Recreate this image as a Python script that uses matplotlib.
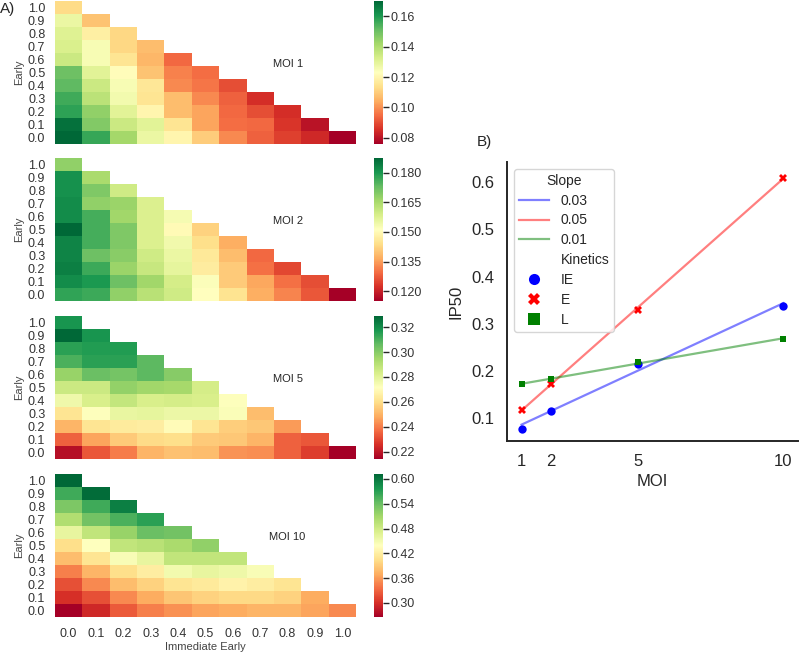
import numpy as np
import matplotlib
matplotlib.use("Agg")
import matplotlib.pyplot as plt
from matplotlib.lines import Line2D

plt.rcParams['font.family'] = ['Liberation Sans', 'DejaVu Sans']
plt.rcParams['text.color'] = '#262626'
plt.rcParams['axes.labelcolor'] = '#262626'
plt.rcParams['xtick.color'] = '#262626'
plt.rcParams['ytick.color'] = '#262626'

# --- data -------------------------------------------------------------------
ie_levels = ["0.0", "0.1", "0.2", "0.3", "0.4", "0.5", "0.6", "0.7", "0.8", "0.9", "1.0"]
early_levels = ie_levels[::-1]  # rows from top (Early 1.0) to bottom (Early 0.0)

# IP50 per cell, rows Early 1.0 -> 0.0, columns Immediate Early 0.0 -> ...
moi1 = [
    [0.113],
    [0.128, 0.108],
    [0.131, 0.118, 0.112],
    [0.132, 0.125, 0.112, 0.107],
    [0.135, 0.125, 0.115, 0.106, 0.094],
    [0.150, 0.130, 0.122, 0.108, 0.098, 0.095],
    [0.152, 0.135, 0.125, 0.116, 0.099, 0.096, 0.090],
    [0.156, 0.138, 0.126, 0.115, 0.107, 0.099, 0.093, 0.085],
    [0.158, 0.145, 0.130, 0.120, 0.107, 0.103, 0.094, 0.090, 0.085],
    [0.168, 0.147, 0.135, 0.130, 0.115, 0.103, 0.095, 0.094, 0.086, 0.080],
    [0.170, 0.157, 0.142, 0.128, 0.120, 0.110, 0.099, 0.093, 0.088, 0.084, 0.076],
]
moi2 = [
    [0.168],
    [0.181, 0.165],
    [0.181, 0.170, 0.160],
    [0.182, 0.168, 0.167, 0.158],
    [0.182, 0.176, 0.166, 0.158, 0.153],
    [0.1875, 0.176, 0.170, 0.158, 0.150, 0.142],
    [0.183, 0.176, 0.170, 0.158, 0.154, 0.144, 0.137],
    [0.183, 0.172, 0.169, 0.160, 0.155, 0.146, 0.139, 0.129],
    [0.184, 0.177, 0.167, 0.161, 0.156, 0.147, 0.141, 0.130, 0.125],
    [0.182, 0.180, 0.172, 0.166, 0.159, 0.152, 0.141, 0.136, 0.130, 0.126],
    [0.178, 0.177, 0.168, 0.163, 0.160, 0.151, 0.145, 0.137, 0.132, 0.127, 0.115],
]
moi5 = [
    [0.318],
    [0.329, 0.318],
    [0.315, 0.316, 0.316],
    [0.310, 0.315, 0.315, 0.307],
    [0.297, 0.305, 0.303, 0.307, 0.300],
    [0.286, 0.286, 0.298, 0.295, 0.294, 0.284],
    [0.276, 0.283, 0.288, 0.283, 0.284, 0.283, 0.272],
    [0.262, 0.272, 0.278, 0.279, 0.277, 0.277, 0.273, 0.252],
    [0.250, 0.262, 0.264, 0.265, 0.270, 0.262, 0.256, 0.254, 0.245],
    [0.235, 0.247, 0.255, 0.259, 0.260, 0.255, 0.254, 0.250, 0.235, 0.233],
    [0.218, 0.233, 0.240, 0.250, 0.253, 0.252, 0.244, 0.243, 0.235, 0.228, 0.214],
]
moi10 = [
    [0.612],
    [0.560, 0.608],
    [0.530, 0.560, 0.595],
    [0.500, 0.535, 0.555, 0.570],
    [0.460, 0.490, 0.515, 0.540, 0.535],
    [0.405, 0.440, 0.490, 0.495, 0.505, 0.520],
    [0.380, 0.410, 0.445, 0.460, 0.490, 0.490, 0.490],
    [0.345, 0.375, 0.405, 0.420, 0.450, 0.460, 0.455, 0.445],
    [0.320, 0.350, 0.380, 0.395, 0.410, 0.415, 0.425, 0.420, 0.410],
    [0.300, 0.320, 0.350, 0.370, 0.385, 0.395, 0.400, 0.400, 0.395, 0.370],
    [0.266, 0.295, 0.325, 0.345, 0.355, 0.365, 0.370, 0.375, 0.375, 0.365, 0.350],
]
map_titles = ["MOI 1", "MOI 2", "MOI 5", "MOI 10"]
cbar_ticks = [
    [0.08, 0.10, 0.12, 0.14, 0.16],
    [0.120, 0.135, 0.150, 0.165, 0.180],
    [0.22, 0.24, 0.26, 0.28, 0.30, 0.32],
    [0.30, 0.36, 0.42, 0.48, 0.54, 0.60],
]
cbar_fmt = ["%.2f", "%.3f", "%.2f", "%.2f"]

moi = [1, 2, 5, 10]
ip50_ie = [0.077, 0.115, 0.215, 0.337]
ip50_e = [0.117, 0.172, 0.330, 0.610]
ip50_l = [0.172, 0.182, 0.218, 0.268]

# --- layout helpers ------------------------------------------------------------
W, H = 800, 656
fig = plt.figure(figsize=(W / 100, H / 100), dpi=100)


def px_axes(left, top, width, height):
    return fig.add_axes([left / W, 1 - (top + height) / H, width / W, height / H])


def draw_map(ax, cax, rows, title, ticks, fmt, bottom=False):
    n = len(ie_levels)
    grid = np.full((n, n), np.nan)
    for r, vals in enumerate(rows):
        grid[r, :len(vals)] = vals
    data = np.ma.masked_invalid(grid)
    mesh = ax.pcolormesh(np.arange(n + 1), np.arange(n + 1), data, cmap="RdYlGn",
                         vmin=data.min(), vmax=data.max())
    ax.set_xlim(0, n)
    ax.set_ylim(n, 0)
    for s in ax.spines.values():
        s.set_visible(False)
    ax.set_yticks(np.arange(n) + 0.5)
    ax.set_yticklabels(early_levels)
    ax.tick_params(axis="y", length=0, pad=7, labelsize=9, labelcolor="#333333")
    ax.set_ylabel("Early", fontsize=8, color="#444444", labelpad=3)
    if bottom:
        ax.set_xticks(np.arange(n) + 0.5)
        ax.set_xticklabels(ie_levels)
        ax.tick_params(axis="x", length=0, pad=8, labelsize=9, labelcolor="#333333")
        ax.set_xlabel("Immediate Early", fontsize=8, color="#444444", labelpad=1)
    else:
        ax.set_xticks([])
    ax.text(8.5, 4.85, title, fontsize=8, ha="center", va="center")

    cb = fig.colorbar(mesh, cax=cax, ticks=ticks, format=fmt)
    cb.outline.set_visible(False)
    cax.tick_params(labelsize=9, length=4, width=1, pad=2, labelcolor="#333333")


maps = [moi1, moi2, moi5, moi10]
tops = [1, 158, 316, 474]
for i, (rows, top) in enumerate(zip(maps, tops)):
    ax = px_axes(55, top, 301, 143)
    cax = px_axes(374, top, 8.5, 143)
    draw_map(ax, cax, rows, map_titles[i], cbar_ticks[i], cbar_fmt[i], bottom=(i == 3))

fig.text(0 / W, 1 - 9 / H, "A)", fontsize=11, va="center", ha="left")
fig.text(477 / W, 1 - 142 / H, "B)", fontsize=11, va="center", ha="left")

# --- panel B ------------------------------------------------------------------
axb = px_axes(507, 162, 291, 279)
series = [
    ("IE", ip50_ie, "blue", "o", 6),
    ("E", ip50_e, "red", "X", 5.5),
    ("L", ip50_l, "green", "s", 5),
]
x = np.array(moi, dtype=float)
slope_handles = []
kin_handles = []
for name, y, color, marker, ms in series:
    slope, intercept = np.polyfit(x, y, 1)
    xx = np.array([x.min(), x.max()])
    line, = axb.plot(xx, slope * xx + intercept, color=color, alpha=0.5, lw=1.6,
                     label=f"{slope:.2f}")
    slope_handles.append(line)
    axb.plot(x, y, linestyle="none", marker=marker, color=color, ms=ms,
             markeredgewidth=0)
    kin_handles.append(Line2D([], [], linestyle="none", marker=marker, color=color,
                              ms=8, markeredgewidth=0, label=name))

header = Line2D([], [], linestyle="none", label="Kinetics")
handles = slope_handles + [header] + kin_handles
axb.legend(handles=handles, labels=[h.get_label() for h in handles], title="Slope",
           loc="upper left", fontsize=10, title_fontsize=10, frameon=True,
           edgecolor="#cccccc", borderaxespad=0.5, handlelength=2.2,
           labelspacing=0.42, borderpad=0.35)

axb.set_xlim(0.5, 10.5)
axb.set_ylim(0.051, 0.643)
axb.set_xticks(moi)
axb.set_yticks([0.1, 0.2, 0.3, 0.4, 0.5, 0.6])
axb.tick_params(length=0, labelsize=12, pad=9)
axb.set_xlabel("MOI", fontsize=12, labelpad=4)
axb.set_ylabel("IP50", fontsize=12, labelpad=6)
axb.spines["top"].set_visible(False)
axb.spines["right"].set_visible(False)
for s in ("left", "bottom"):
    axb.spines[s].set_color("#262626")
    axb.spines[s].set_linewidth(1.4)

fig.savefig("out.png", dpi=100)
